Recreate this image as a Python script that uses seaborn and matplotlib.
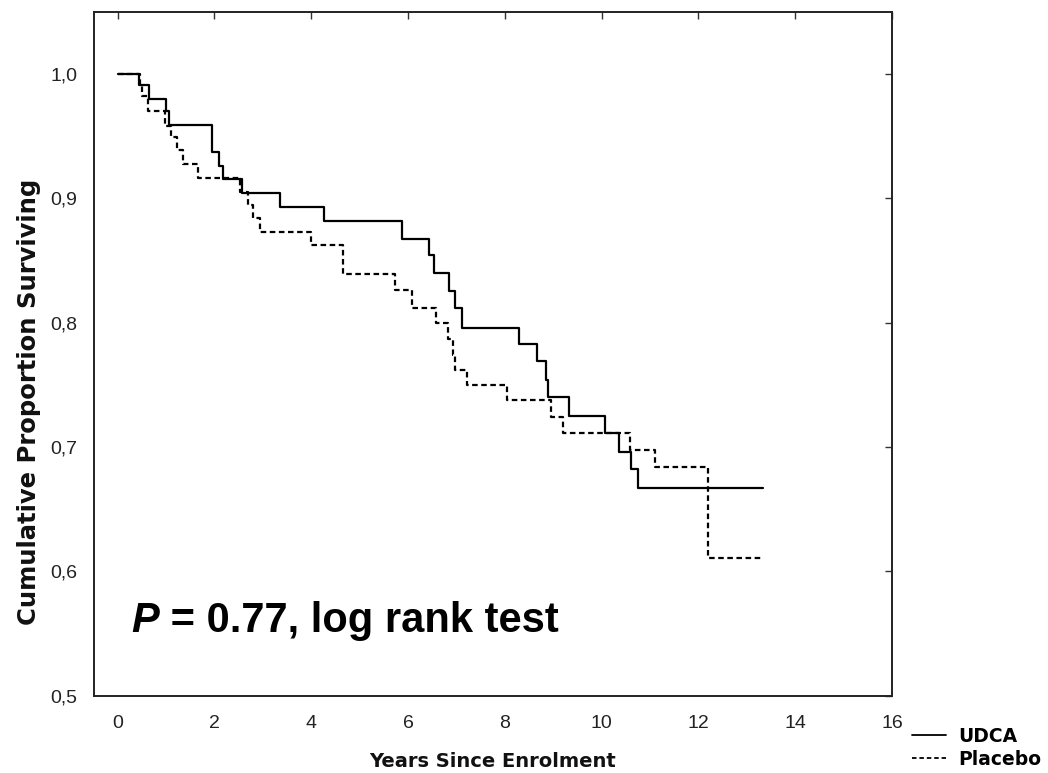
import matplotlib
matplotlib.use("Agg")
import matplotlib.pyplot as plt
import seaborn as sns
import numpy as np
import pandas as pd

# Kaplan-Meier steps (time in years, survival after the drop)
udca_time = [0, 0.45, 0.65, 0.99, 1.06, 1.94, 2.10, 2.18, 2.56, 3.35, 4.26, 5.88,
             6.44, 6.54, 6.85, 6.97, 7.11, 8.30, 8.66, 8.86, 8.90, 9.32, 10.07,
             10.36, 10.61, 10.76, 13.33]
udca_surv = [1.0, 0.991, 0.980, 0.970, 0.959, 0.9375, 0.926, 0.9155, 0.904, 0.893,
             0.882, 0.867, 0.854, 0.840, 0.825, 0.8115, 0.796, 0.7825, 0.769, 0.754,
             0.740, 0.725, 0.711, 0.696, 0.682, 0.667, 0.667]

placebo_time = [0, 0.46, 0.50, 0.63, 0.98, 1.10, 1.22, 1.34, 1.65, 2.53, 2.70, 2.80,
                2.94, 3.99, 4.65, 5.73, 6.09, 6.58, 6.83, 6.93, 6.97, 7.21, 8.04,
                8.95, 9.21, 10.58, 11.10, 12.20, 13.31]
placebo_surv = [1.0, 0.991, 0.982, 0.970, 0.958, 0.949, 0.939, 0.9275, 0.9165, 0.905,
                0.8945, 0.884, 0.873, 0.862, 0.839, 0.826, 0.812, 0.800, 0.787, 0.774,
                0.762, 0.750, 0.738, 0.724, 0.711, 0.6975, 0.684, 0.611, 0.611]

group_names = ["UDCA", "Placebo"]
x_ticks = [0, 2, 4, 6, 8, 10, 12, 14, 16]
y_ticks = [0.5, 0.6, 0.7, 0.8, 0.9, 1.0]

df = pd.concat([
    pd.DataFrame({"years": udca_time, "surv": udca_surv, "group": group_names[0]}),
    pd.DataFrame({"years": placebo_time, "surv": placebo_surv, "group": group_names[1]}),
])

sns.set_style("white")
plt.rcParams["font.family"] = ["Liberation Sans", "DejaVu Sans"]
plt.rcParams["text.color"] = "black"
label_font = ["DejaVu Sans", "Liberation Sans"]

fig = plt.figure(figsize=(10.48, 7.73), dpi=100)
ax = fig.add_axes([0.0897, 0.10, 0.7614, 0.885])

sns.lineplot(data=df, x="years", y="surv", style="group", drawstyle="steps-post",
             color="black", linewidth=1.6, dashes={"UDCA": "", "Placebo": (2.5, 1.6)},
             legend=False, ax=ax, estimator=None, sort=False)

ax.set_xlim(-0.49, 16)
ax.set_ylim(0.5, 1.05)
ax.set_xticks(x_ticks)
ax.set_yticks(y_ticks)
ax.set_xticklabels([str(t) for t in x_ticks])
ax.set_yticklabels([f"{t:.1f}".replace(".", ",") for t in y_ticks])
ax.tick_params(direction="in", length=5, width=1, color="#333333",
               top=True, right=True, labelsize=14, labelcolor="#222222")
ax.tick_params(axis="x", pad=14)
ax.tick_params(axis="y", pad=12)
for s in ax.spines.values():
    s.set_color("#222222")
    s.set_linewidth(1.4)

ax.set_xlabel("Years Since Enrolment", fontsize=14, fontweight="bold",
              family=label_font, color="#111111", labelpad=14)
ax.set_ylabel("Cumulative Proportion Surviving", fontsize=17.5, fontweight="bold",
              family=label_font, color="#111111")
ax.yaxis.set_label_coords(-0.067, 0.43)

t1 = ax.text(0.29, 0.5513, "P", fontsize=30, fontweight="bold", style="italic",
             va="baseline", ha="left", color="black")
ax.annotate(" = 0.77, log rank test", xy=(1, 0), xycoords=t1, fontsize=30,
            fontweight="bold", va="bottom", ha="left", color="black")

handles = [plt.Line2D([], [], color="black", lw=1.3, ls="-"),
           plt.Line2D([], [], color="black", lw=1.3, ls=(0, (2.5, 1.6)))]
fig.legend(handles, group_names, loc="upper left", bbox_to_anchor=(0.870, 0.060),
           frameon=False, handlelength=1.8, handletextpad=0.7, labelspacing=0.22,
           borderpad=0, borderaxespad=0,
           prop={"weight": "bold", "size": 13.5, "family": label_font})

fig.savefig("out.png", dpi=100)
